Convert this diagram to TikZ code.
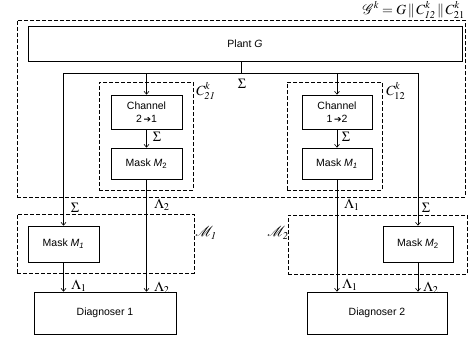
\documentclass[tikz,border=0pt]{standalone}
\usepackage{mathptmx}
\usepackage{mathrsfs}
\usepackage[no-math]{fontspec}
\setmainfont{Liberation Sans}
\newfontfamily\dejavu{DejaVu Sans}
\usetikzlibrary{arrows.meta}
\begin{document}
\begin{tikzpicture}[x=1pt,y=-1pt,
 box/.style={draw, line width=0.6pt, inner sep=0pt, font=\fontsize{10.5}{12.5}\selectfont, align=center},
 dbox/.style={draw, dash pattern=on 4pt off 2pt, line width=0.6pt, inner sep=0pt},
 arr/.style={-{Straight Barb[length=3pt,width=5pt]}, line width=0.6pt},
 ln/.style={line width=0.6pt},
 lab/.style={font=\fontsize{14}{14}\selectfont, inner sep=0pt}]
\useasboundingbox (0,0) rectangle (470,343);
% dashed groups
\node[dbox, minimum width=448pt, minimum height=177pt] (gk) at (241,108.5) {};
\node[dbox, minimum width=94pt, minimum height=108pt] (c21) at (146,136) {};
\node[dbox, minimum width=95pt, minimum height=108pt] (c12) at (334.5,136) {};
\node[dbox, minimum width=177pt, minimum height=59pt] (gm1) at (105.5,243.5) {};
\node[dbox, minimum width=179pt, minimum height=59pt] (gm2) at (377.5,244.5) {};
% boxes
\node[box, minimum width=434pt, minimum height=35pt] (plant) at (245,43.5) {Plant \textit{G}};
\node[box, minimum width=71pt, minimum height=34pt] (ch21) at (146.5,112) {Channel\\2\,{\dejavu\fontsize{9}{10}\selectfont\bfseries ➔}1};
\node[box, minimum width=71pt, minimum height=31pt] (mk21) at (146.5,163.5) {Mask \textit{M}\textsubscript{2}};
\node[box, minimum width=70pt, minimum height=34pt] (ch12) at (337,112) {Channel\\1\,{\dejavu\fontsize{9}{10}\selectfont\bfseries ➔}2};
\node[box, minimum width=70pt, minimum height=31pt] (mk12) at (337,163.5) {Mask \textit{M}\textsubscript{\textit{1}}};
\node[box, minimum width=71pt, minimum height=36pt] (lm1) at (63.5,244) {Mask \textit{M}\textsubscript{\textit{1}}};
\node[box, minimum width=70pt, minimum height=36pt] (rm2) at (418,244) {Mask \textit{M}\textsubscript{2}};
\node[box, minimum width=142pt, minimum height=42pt] (d1) at (105,313) {Diagnoser 1};
\node[box, minimum width=140pt, minimum height=42pt] (d2) at (377,313) {Diagnoser 2};
% junctions
\coordinate (stem) at (241,73);
\coordinate (jl) at (63.5,73);
\coordinate (jr) at (418,73);
% connectors
\draw[ln] (stem |- plant.south) -- (stem);
\draw[ln] (jl) -- (jr);
\draw[arr] (jl) -- (lm1.north);
\draw[arr] (jr) -- (rm2.north);
\draw[arr] (ch21.north |- stem) -- (ch21.north);
\draw[arr] (ch12.north |- stem) -- (ch12.north);
\draw[arr] (ch21.south) -- (mk21.north);
\draw[arr] (ch12.south) -- (mk12.north);
\draw[arr] (mk21.south) -- (mk21.south |- d1.north);
\draw[arr] (mk12.south) -- (mk12.south |- d2.north);
\draw[arr] (lm1.south) -- (lm1.south |- d1.north);
\draw[arr] (rm2.south) -- (rm2.south |- d2.north);
% labels
\node[lab, anchor=east] (gklab) at (465,10) {$\mathscr{G}^k = G\,\|\,C^k_{\mathit{12}}\,\|\,C^k_{21}$};
\node[lab] (sigtop) at (242,84) {$\Sigma$};
\node[lab, anchor=west] (c21lab) at (196,91) {$C^k_{\mathit{21}}$};
\node[lab, anchor=west] (c12lab) at (386,91) {$C^k_{12}$};
\node[lab] (s21) at (157,137) {$\Sigma$};
\node[lab] (s12) at (346,137) {$\Sigma$};
\node[lab] (sl) at (75,208) {$\Sigma$};
\node[lab] (sr) at (426,208) {$\Sigma$};
\node[lab] (l2a) at (162,205) {$\Lambda_2$};
\node[lab] (l1a) at (352,205) {$\Lambda_1$};
\node[lab] (l1b) at (79,286) {$\Lambda_1$};
\node[lab] (l2b) at (162,288) {$\Lambda_2$};
\node[lab] (l1c) at (350,285) {$\Lambda_1$};
\node[lab] (l2c) at (431,288) {$\Lambda_2$};
\node[lab] (m1lab) at (206,233) {$\mathscr{M}_{\mathit{1}}$};
\node[lab] (m2lab) at (278,233) {$\mathscr{M}_{\mathit{2}}$};
\end{tikzpicture}
\end{document}
